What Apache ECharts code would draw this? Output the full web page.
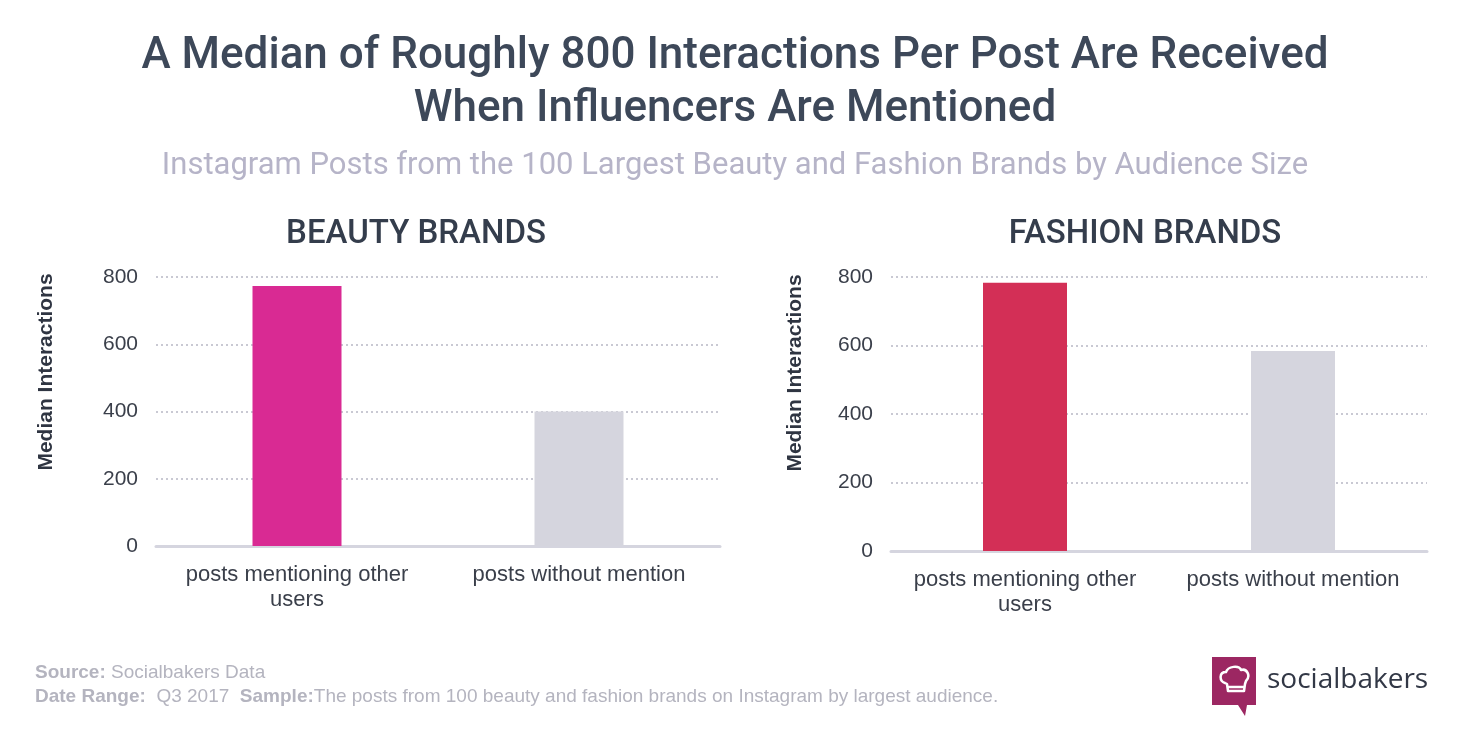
<!DOCTYPE html>
<html>
<head>
<meta charset="utf-8">
<title>Influencer mentions</title>
<script src="https://cdn.jsdelivr.net/npm/echarts@6/dist/echarts.min.js"></script>
<style>
html, body { margin: 0; padding: 0; background: #fff; }
#main { width: 1460px; height: 730px; }
</style>
</head>
<body>
<div id="main"></div>
<script>
// categories and values
var categories = ['posts mentioning other\nusers', 'posts without mention'];
var beautyValues = [773, 400];
var fashionValues = [783, 584];
var beautyColors = ['#d92a93', '#d5d5de'];
var fashionColors = ['#d32f56', '#d5d5de'];
var yTicks = { min: 0, max: 800, interval: 200 };
var yName = 'Median Interactions';

// white chef hat of the logo, as inline svg
var hatSvg = 'data:image/svg+xml;utf8,' + encodeURIComponent(
	'<svg xmlns="http://www.w3.org/2000/svg" width="34" height="30" viewBox="-2 -2 34 30">' +
	'<path d="M6 17 C0 15 0 6 7 6 C9 0 20 -1 22 4 C28 2 32 10 27 15 L26 18 L25 25 L9 25 L8 18 Z M9 21 L25 21" ' +
	'fill="none" stroke="#ffffff" stroke-width="2.5" stroke-linejoin="round"/></svg>');

var myChart = echarts.init(document.getElementById('main'));

function yAxisOf(gridIndex) {
	return {
		type: 'value',
		gridIndex: gridIndex,
		min: yTicks.min,
		max: yTicks.max,
		interval: yTicks.interval,
		axisLine: { show: false },
		axisTick: { show: false },
		axisLabel: {
			margin: 18,
			fontFamily: 'Liberation Sans',
			fontSize: 21,
			color: '#3a3f4a'
		},
		splitLine: {
			lineStyle: { color: '#c9c9d3', type: [2, 3], width: 2 }
		}
	};
}

function xAxisOf(gridIndex) {
	return {
		type: 'category',
		gridIndex: gridIndex,
		data: categories,
		axisTick: { show: false },
		axisLine: { lineStyle: { color: '#d5d5df', width: 3 } },
		axisLabel: {
			interval: 0,
			hideOverlap: false,
			margin: 16,
			fontFamily: 'Liberation Sans',
			fontSize: 22,
			lineHeight: 25,
			color: '#3a3f4a'
		}
	};
}

function barsOf(idx, values, colors, width) {
	return {
		type: 'bar',
		xAxisIndex: idx,
		yAxisIndex: idx,
		barWidth: width,
		silent: true,
		data: values.map(function (v, i) {
			return { value: v, itemStyle: { color: colors[i] } };
		})
	};
}

function yNameAt(x, y) {
	return {
		type: 'text',
		x: x,
		y: y,
		rotation: Math.PI / 2,
		style: {
			text: yName,
			align: 'center',
			verticalAlign: 'middle',
			fontFamily: 'Liberation Sans',
			fontWeight: 'bold',
			fontSize: 21,
			fill: '#2f3542'
		}
	};
}

var footRich = { b: { fontWeight: 'bold', fontSize: 19, fill: '#b4b4bf', fontFamily: 'Liberation Sans' } };

var option = {
	backgroundColor: '#ffffff',
	animation: false,
	title: [{
		text: 'A Median of Roughly 800 Interactions Per Post Are Received\nWhen Influencers Are Mentioned',
		left: 730,
		top: 25,
		textAlign: 'center',
		textStyle: {
			fontFamily: 'Roboto',
			fontWeight: 500,
			fontSize: 44,
			lineHeight: 53,
			color: '#3d4859'
		}
	}, {
		text: 'Instagram Posts from the 100 Largest Beauty and Fashion Brands by Audience Size',
		left: 730,
		top: 143,
		textAlign: 'center',
		textStyle: {
			fontFamily: 'Roboto',
			fontWeight: 'normal',
			fontSize: 31,
			lineHeight: 36,
			color: '#b6b4c8'
		}
	}, {
		text: 'BEAUTY BRANDS',
		left: 411,
		top: 211,
		textAlign: 'center',
		textStyle: {
			fontFamily: 'Roboto',
			fontWeight: 500,
			fontSize: 33,
			lineHeight: 38,
			color: '#343d4c'
		}
	}, {
		text: 'FASHION BRANDS',
		left: 1140,
		top: 211,
		textAlign: 'center',
		textStyle: {
			fontFamily: 'Roboto',
			fontWeight: 500,
			fontSize: 33,
			lineHeight: 38,
			color: '#343d4c'
		}
	}],
	grid: [
		{ left: 156, right: 740, top: 277, bottom: 184 },
		{ left: 891, right: 33, top: 277, bottom: 179 }
	],
	xAxis: [xAxisOf(0), xAxisOf(1)],
	yAxis: [yAxisOf(0), yAxisOf(1)],
	series: [
		barsOf(0, beautyValues, beautyColors, 89),
		barsOf(1, fashionValues, fashionColors, 84)
	],
	graphic: [
		yNameAt(46, 372),
		yNameAt(795, 373),
	{
		type: 'text',
		left: 35,
		top: 663,
		style: {
			text: '{b|Source:} Socialbakers Data',
			fontFamily: 'Liberation Sans',
			fontSize: 19,
			fill: '#b4b4bf',
			rich: footRich
		}
	}, {
		type: 'text',
		left: 35,
		top: 687,
		style: {
			text: '{b|Date Range:}  Q3 2017  {b|Sample:}The posts from 100 beauty and fashion brands on Instagram by largest audience.',
			fontFamily: 'Liberation Sans',
			fontSize: 19,
			fill: '#b4b4bf',
			rich: footRich
		}
	}, {
		// logo badge
		type: 'polygon',
		shape: { points: [[1212, 657], [1256, 657], [1256, 705], [1247, 705], [1245, 716], [1238, 705], [1212, 705]] },
		style: { fill: '#9c2762' }
	}, {
		type: 'image',
		left: 1217,
		top: 664,
		style: { image: hatSvg, width: 34, height: 30 }
	}, {
		type: 'text',
		left: 1267,
		top: 666,
		style: {
			text: 'socialbakers',
			fontFamily: 'Open Sans',
			fontSize: 28,
			fill: '#323846'
		}
	}]
};

myChart.setOption(option);
window.addEventListener('resize', function () {
	myChart.resize();
});
</script>
</body>
</html>
